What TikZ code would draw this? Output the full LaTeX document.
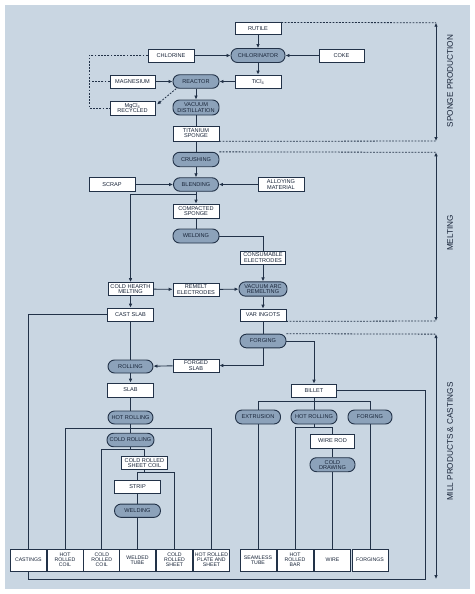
\documentclass[tikz,border=0pt]{standalone}
\usepackage{fontspec}
\setmainfont{Liberation Sans}
\usetikzlibrary{arrows.meta,calc}
\definecolor{panel}{RGB}{201,214,226}
\definecolor{procfill}{RGB}{140,162,186}
\definecolor{edge}{RGB}{34,50,72}
\definecolor{txt}{RGB}{24,36,56}
\tikzset{
  box/.style={draw=edge, fill=white, line width=0.7pt, inner sep=0pt, align=center,
    font=\fontsize{5.6}{5.2}\selectfont, text=txt},
  proc/.style={draw=edge, fill=procfill, line width=0.9pt, rounded corners=6.5pt, inner sep=0pt,
    align=center, font=\fontsize{5.6}{5.2}\selectfont, text=txt},
  conn/.style={draw=edge, line width=0.9pt},
  arr/.style={conn, -{Latex[length=4pt,width=3.6pt]}},
  dots/.style={draw=edge, line width=0.8pt, dash pattern=on 1.8pt off 1.4pt},
  dbl/.style={draw=edge, line width=0.8pt, {Latex[length=4pt,width=3.6pt]}-{Latex[length=4pt,width=3.6pt]}},
  lab/.style={rotate=90, font=\fontsize{8.2}{8}\selectfont, text=txt},
  bot/.style={box, minimum width=36, minimum height=22, font=\fontsize{5.2}{5}\selectfont}
}
\begin{document}
\begin{tikzpicture}[x=1pt,y=-1pt]
\useasboundingbox (0,0) rectangle (474,594);
\fill[white] (0,0) rectangle (474,594);
\fill[panel] (5,5) rectangle (470,589);

% ---------- sponge production ----------
\node[box, minimum width=46, minimum height=11.5] (rutile) at (258,28.5) {RUTILE};
\node[proc, minimum width=54, minimum height=14] (chlorinator) at (258,55.5) {CHLORINATOR};
\node[box, minimum width=46, minimum height=13] (chlorine) at (171,55.5) {CHLORINE};
\node[box, minimum width=45, minimum height=13] (coke) at (341.5,55.5) {COKE};
\node[box, minimum width=46, minimum height=13] (ticl) at (258,81.5) {TiCl\textsubscript{4}};
\node[proc, minimum width=46, minimum height=13.5] (reactor) at (196,81.5) {REACTOR};
\node[box, minimum width=45, minimum height=13] (magnesium) at (132.5,81.5) {MAGNESIUM};
\node[box, minimum width=45, minimum height=14] (mgcl) at (132.5,108) {MgCl\textsubscript{4}\\RECYCLED};
\node[proc, minimum width=46, minimum height=15] (vacdist) at (196,107.5) {VACUUM\\DISTILLATION};
\node[box, minimum width=46, minimum height=15] (sponge) at (196,133.5) {TITANIUM\\SPONGE};

% ---------- melting ----------
\node[proc, minimum width=46, minimum height=14.4] (crushing) at (196,159.5) {CRUSHING};
\node[proc, minimum width=45, minimum height=13.5] (blending) at (196,184.5) {BLENDING};
\node[box, minimum width=46, minimum height=14] (scrap) at (112,184.5) {SCRAP};
\node[box, minimum width=46, minimum height=14] (alloy) at (281,184.5) {ALLOYING\\MATERIAL};
\node[box, minimum width=46, minimum height=14] (compact) at (196,211) {COMPACTED\\SPONGE};
\node[proc, minimum width=46, minimum height=14] (welding1) at (196,236) {WELDING};
\node[box, minimum width=45, minimum height=13] (consum) at (263,257.5) {CONSUMABLE\\ELECTRODES};
\node[proc, minimum width=48, minimum height=14.3] (var) at (263,289) {VACUUM ARC\\REMELTING};
\node[box, minimum width=45, minimum height=13] (chm) at (130.5,289) {COLD HEARTH\\MELTING};
\node[box, minimum width=46, minimum height=13] (remelt) at (196,289.5) {REMELT\\ELECTRODES};
\node[box, minimum width=46, minimum height=13] (castslab) at (130.5,314.5) {CAST SLAB};
\node[box, minimum width=46, minimum height=12] (varing) at (263,315) {VAR INGOTS};

% ---------- mill products ----------
\node[proc, minimum width=46, minimum height=13.7] (forging1) at (263,341) {FORGING};
\node[box, minimum width=46, minimum height=13] (forgedslab) at (196,365.5) {FORGED\\SLAB};
\node[proc, minimum width=45, minimum height=13] (rolling) at (130.5,366.5) {ROLLING};
\node[box, minimum width=46, minimum height=14] (slab) at (130.5,390) {SLAB};
\node[box, minimum width=45, minimum height=13] (billet) at (314,390.5) {BILLET};
\node[proc, minimum width=45, minimum height=13] (hotroll1) at (130.5,417.5) {HOT ROLLING};
\node[proc, minimum width=47, minimum height=13.5] (coldroll) at (130.5,440) {COLD ROLLING};
\node[box, minimum width=45.6, minimum height=13.3] (crsc) at (144.5,462.7) {COLD ROLLED\\SHEET COIL};
\node[box, minimum width=46, minimum height=13.3] (strip) at (137.5,486.7) {STRIP};
\node[proc, minimum width=46, minimum height=13.3] (welding2) at (137.5,510.7) {WELDING};
\node[proc, minimum width=45, minimum height=14] (extrusion) at (258,417) {EXTRUSION};
\node[proc, minimum width=46, minimum height=14] (hotroll2) at (314,417) {HOT ROLLING};
\node[proc, minimum width=44, minimum height=14] (forging2) at (370,417) {FORGING};
\node[box, minimum width=44, minimum height=14] (wirerod) at (332.5,441) {WIRE ROD};
\node[proc, minimum width=45, minimum height=14] (colddraw) at (332.5,464.7) {COLD\\DRAWING};

% bottom products
\node[bot] (castings) at (28.3,560) {CASTINGS};
\node[bot] (hrcoil) at (65,560) {HOT\\ROLLED\\COIL};
\node[bot] (crcoil) at (101.8,560) {COLD\\ROLLED\\COIL};
\node[bot] (weldedtube) at (137.5,560) {WELDED\\TUBE};
\node[bot] (crsheet) at (174.5,560) {COLD\\ROLLED\\SHEET};
\node[bot] (hrplate) at (211.5,560) {HOT ROLLED\\PLATE AND\\SHEET};
\node[bot] (seamless) at (258,560) {SEAMLESS\\TUBE};
\node[bot] (hrbar) at (295,560) {HOT\\ROLLED\\BAR};
\node[bot] (wire) at (332.5,560) {WIRE};
\node[bot] (forgings) at (370,560) {FORGINGS};

% section labels
\node[lab] (lsponge) at (450,81) {SPONGE PRODUCTION};
\node[lab] (lmelt) at (450,233) {MELTING};
\node[lab] (lmill) at (450,441.7) {MILL PRODUCTS \& CASTINGS};

% ---------- connectors: sponge ----------
\draw[arr] (rutile) -- (chlorinator);
\draw[arr] (chlorine) -- (chlorinator);
\draw[arr] (coke) -- (chlorinator);
\draw[arr] (chlorinator) -- (ticl);
\draw[arr] (ticl) -- (reactor);
\draw[arr] (magnesium) -- (reactor);
\draw[arr] (reactor) -- (vacdist);
\draw[conn] (vacdist) -- (sponge);
\draw[conn] (sponge) -- (crushing);

\coordinate (dl1) at (89,55.5);
\coordinate (dl2) at (89,81.5);
\coordinate (mgtip) at (157,104.5);
\draw[dots] (chlorine.west) -- (dl1) |- (mgcl.west);
\draw[dots] (magnesium.west) -- (dl2);
\draw[dots, -{Latex[length=4pt,width=3.6pt]}] (reactor.200) -- (mgtip);

% ---------- connectors: melting ----------
\draw[arr] (crushing) -- (blending);
\draw[arr] (scrap) -- (blending);
\draw[arr] (alloy) -- (blending);
\coordinate (jb) at (196,194);
\draw[arr] (blending) -- (compact);
\draw[arr] (jb) -| (chm.north);
\draw[conn] (compact) -- (welding1);
\draw[conn] (welding1.east) -| (consum.north);
\draw[arr] (consum) -- (var);
\draw[arr] (chm) -- (remelt);
\draw[arr] (remelt) -- (var);
\draw[arr] (chm) -- (castslab);
\draw[arr] (var) -- (varing);

% ---------- connectors: mill ----------
\draw[conn] (varing) -- (forging1);
\draw[arr] (forging1.south) |- (forgedslab.east);
\draw[arr] (forgedslab) -- (rolling);
\draw[conn] (castslab) -- (rolling);
\draw[arr] (rolling) -- (slab);
\draw[conn] (slab) -- (hotroll1);
\draw[arr] (forging1.east) -| (billet.north);

\coordinate (loopr) at (425,579.7);
\draw[conn] (castslab.west) -| (castings.north);
\draw[conn] (castings.south) |- (loopr) |- (billet.east);

\coordinate (jbil) at (314,401.7);
\draw[conn] (billet) -- (jbil);
\draw[conn] (extrusion.north) |- (jbil) -| (forging2.north);
\draw[conn] (jbil) -- (hotroll2);
\draw[conn] (extrusion) -- (seamless);
\draw[conn] (forging2) -- (forgings);

\coordinate (jhr2) at (314,427.3);
\draw[conn] (hotroll2) -- (jhr2);
\draw[conn] (hrbar.north) |- (jhr2) -| (wirerod.north);
\draw[conn] (wirerod) -- (colddraw);
\draw[conn] (colddraw) -- (wire);

\coordinate (jhr1) at (130.5,428.3);
\draw[conn] (hotroll1) -- (coldroll);
\draw[conn] (hrcoil.north) |- (jhr1) -| (hrplate.north);

\coordinate (jcr) at (130.5,449.3);
\draw[conn] (coldroll) -- (jcr);
\draw[conn] (crcoil.north) |- (jcr) -| (crsc.north);

\coordinate (jcs) at (144.5,472.7);
\draw[conn] (crsc) -- (jcs);
\draw[conn] (strip.north) |- (jcs) -| (crsheet.north);
\draw[conn] (strip) -- (welding2);
\draw[conn] (welding2) -- (weldedtube);

% ---------- section brackets ----------
\coordinate (s1t) at (436,22.75);
\coordinate (s1b) at (436,141);
\coordinate (s2t) at (436,152.3);
\coordinate (s2b) at (436,321);
\coordinate (s3t) at (436,334.15);
\coordinate (s3b) at (436,579);
\draw[dots] (rutile.north east) -- (s1t);
\draw[dots] (sponge.south east) -- (s1b);
\draw[dbl] (s1t) -- (s1b);
\draw[dots] (crushing.north east) -- (s2t);
\draw[dots] (varing.south east) -- (s2b);
\draw[dbl] (s2t) -- (s2b);
\draw[dots] (forging1.north east) -- (s3t);
\draw[dbl] (s3t) -- (s3b);
\end{tikzpicture}
\end{document}
